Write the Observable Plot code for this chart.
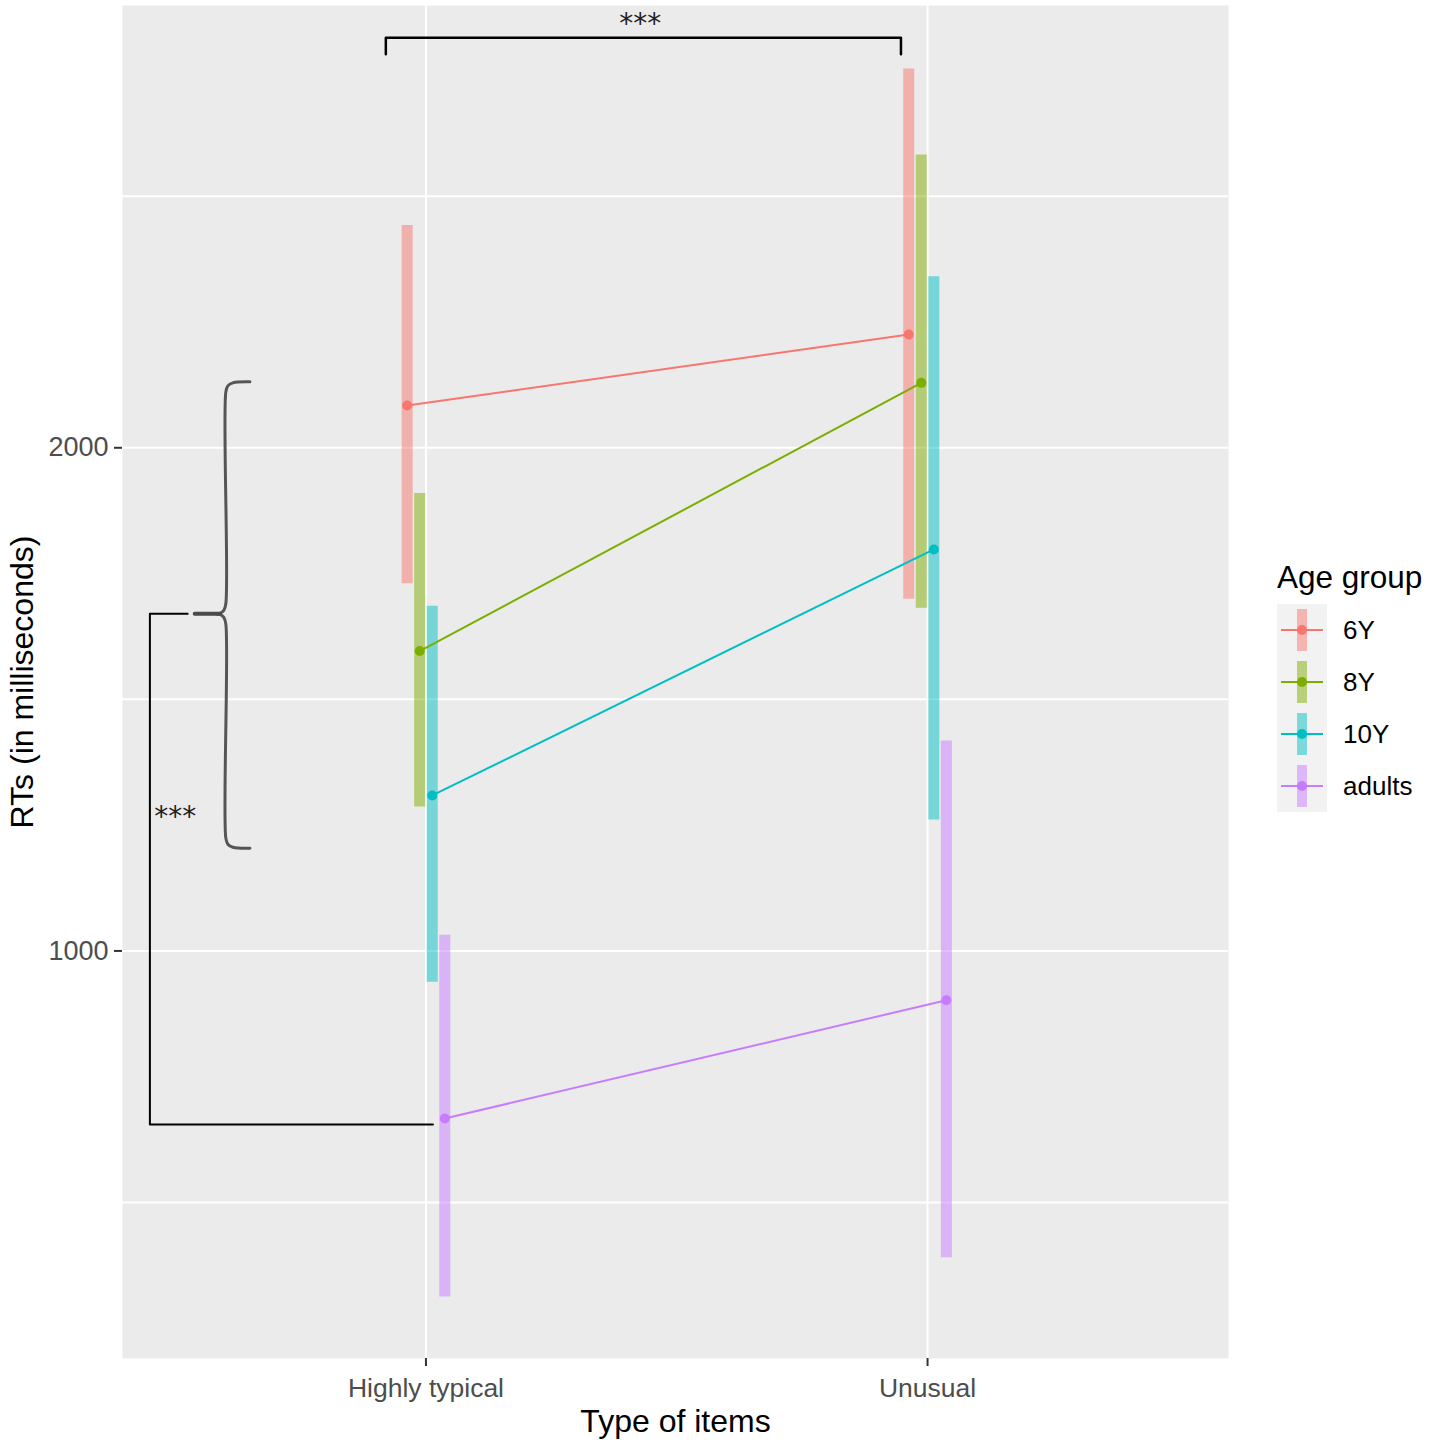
<!DOCTYPE html>
<html>
<head>
<meta charset="utf-8">
<script src="https://cdn.jsdelivr.net/npm/d3@7"></script>
<script src="https://cdn.jsdelivr.net/npm/@observablehq/plot@0.6"></script>
<style>
  body { margin: 0; background: #fff; font-family: "Liberation Sans", Arial, sans-serif; }
  #wrap { position: relative; width: 1430px; height: 1450px; }
  #legend { position: absolute; left: 1277px; top: 559px; color: #000; }
  #legend .lt { font-size: 31.5px; line-height: 36px; height: 36px; margin-bottom: 9px; white-space: nowrap; }
  #legend .keys { display: flex; flex-direction: column; }
  #legend .row { display: flex; align-items: center; height: 52px; }
  #legend .row svg { background: #F2F2F2; display: block; }
  #legend .row span { font-size: 26px; margin-left: 16px; }
</style>
</head>
<body>
<div id="wrap">
  <div id="chart"></div>
  <div id="legend"></div>
</div>
<script>
// ---------- data ----------
const categories = ["Highly typical", "Unusual"];
const groups = ["6Y", "8Y", "10Y", "adults"];
const colors = ["#F8766D", "#7CAE00", "#00BFC4", "#C77CFF"];
const dodge = [-0.0375, -0.0125, 0.0125, 0.0375];

const meanTypical = [2084, 1596, 1309, 667];
const lowTypical  = [1730, 1286, 938, 312];
const highTypical = [2442, 1909, 1685, 1031];

const meanUnusual = [2225, 2129, 1798, 902];
const lowUnusual  = [1699, 1681, 1260, 390];
const highUnusual = [2753, 2582, 2340, 1417];

const yTicks = [1000, 2000];
const yMinor = [500, 1500, 2500];

// annotations (data units)
const topBracket = [
  {x: 0.920, y: 2782}, {x: 0.920, y: 2815}, {x: 1.947, y: 2815}, {x: 1.947, y: 2782}
];
const topStars = [{x: 1.427, y: 2842, label: "***"}];
const leftBracket = [
  {x: 0.525, y: 1670}, {x: 0.4496, y: 1670}, {x: 0.4496, y: 655}, {x: 1.014, y: 655}
];
const leftStars = [{x: 0.5, y: 1266, label: "***"}];
const braceX = 0.601, braceArm = 0.649, braceTip = 0.539;
const braceTop = 2131, braceMid = 1670, braceBottom = 1204;

// ---------- build ----------
const series = [
  [meanTypical, lowTypical, highTypical],
  [meanUnusual, lowUnusual, highUnusual]
];
const rows = [];
categories.forEach((c, i) => {
  groups.forEach((g, j) => {
    rows.push({cat: c, pos: i + 1 + dodge[j], group: g,
      mean: series[i][0][j], lo: series[i][1][j], hi: series[i][2][j]});
  });
});

const braceUpper = [
  {x: braceArm, y: braceTop},
  {x: braceX + 0.014, y: braceTop - 2},
  {x: braceX + 0.004, y: braceTop - 8},
  {x: braceX, y: braceTop - 20},
  {x: braceX, y: braceMid + 20},
  {x: braceX - 0.004, y: braceMid + 7},
  {x: braceX - 0.012, y: braceMid + 1},
  {x: braceX - 0.02, y: braceMid}
];
const scaleLow = (braceMid - braceBottom) / (braceTop - braceMid);
const braceLow = braceUpper.map(p => ({x: p.x, y: braceMid - (p.y - braceMid) * scaleLow}));
const braceStub = [{x: braceTip, y: braceMid}, {x: braceX - 0.012, y: braceMid}];

const font = "Liberation Sans, Arial, sans-serif";

const chart = Plot.plot({
  width: 1430,
  height: 1450,
  marginLeft: 122,
  marginRight: 202,
  marginTop: 5,
  marginBottom: 92,
  style: {fontFamily: font, background: "white", overflow: "visible"},
  x: {domain: [0.395, 2.6], axis: null},
  y: {domain: [190, 2879], axis: null},
  color: {domain: groups, range: colors},
  marks: [
    Plot.frame({fill: "#EBEBEB", stroke: null}),
    Plot.ruleY(yMinor, {stroke: "white", strokeWidth: 2}),
    Plot.ruleY(yTicks, {stroke: "white", strokeWidth: 2}),
    Plot.ruleX([1, 2], {stroke: "white", strokeWidth: 2}),
    Plot.ruleX(rows, {x: "pos", y1: "lo", y2: "hi", stroke: "group", strokeWidth: 11, strokeOpacity: 0.5}),
    Plot.line(rows, {x: "pos", y: "mean", z: "group", stroke: "group", strokeWidth: 2}),
    Plot.dot(rows, {x: "pos", y: "mean", fill: "group", r: 5}),
    // annotations
    Plot.line(topBracket, {x: "x", y: "y", stroke: "black", strokeWidth: 2.5}),
    Plot.text(topStars, {x: "x", y: "y", text: "label", fontSize: 28, fontFamily: "DejaVu Sans", fill: "#222"}),
    Plot.line(leftBracket, {x: "x", y: "y", stroke: "black", strokeWidth: 2}),
    Plot.line(braceUpper, {x: "x", y: "y", curve: "catmull-rom", stroke: "#555", strokeWidth: 3}),
    Plot.line(braceLow, {x: "x", y: "y", curve: "catmull-rom", stroke: "#555", strokeWidth: 3}),
    Plot.line(braceStub, {x: "x", y: "y", stroke: "#4a4a4a", strokeWidth: 4}),
    Plot.text(leftStars, {x: "x", y: "y", text: "label", fontSize: 28, fontFamily: "DejaVu Sans", fill: "#222"}),
    // axes
    Plot.axisY({ticks: yTicks, tickFormat: d => String(d), tickSize: 8, tickPadding: 6, fontSize: 27, stroke: "#333333", strokeWidth: 2, fill: "#4D4D4D", label: null}),
    Plot.axisX({ticks: [1, 2], tickFormat: d => categories[d - 1], tickSize: 8, tickPadding: 12, fontSize: 26.5, stroke: "#333333", strokeWidth: 2, fill: "#4D4D4D", label: null}),
    Plot.text(["Type of items"], {frameAnchor: "bottom", dy: 73, fontSize: 32, fill: "black"}),
    Plot.text(["RTs (in milliseconds)"], {frameAnchor: "left", textAnchor: "middle", rotate: -90, dx: -100, fontSize: 32, fill: "black"})
  ]
});
document.getElementById("chart").appendChild(chart);

// ---------- legend ----------
const leg = document.getElementById("legend");
leg.innerHTML = `<div class="lt">Age group</div><div class="keys">` +
  groups.map((g, i) => `<div class="row"><svg width="50" height="52">
      <rect x="20" y="5" width="10" height="42" fill="${colors[i]}" fill-opacity="0.5"></rect>
      <line x1="4" x2="46" y1="26" y2="26" stroke="${colors[i]}" stroke-width="2"></line>
      <circle cx="25" cy="26" r="5" fill="${colors[i]}"></circle>
    </svg><span>${g}</span></div>`).join("") + `</div>`;
</script>
</body>
</html>
